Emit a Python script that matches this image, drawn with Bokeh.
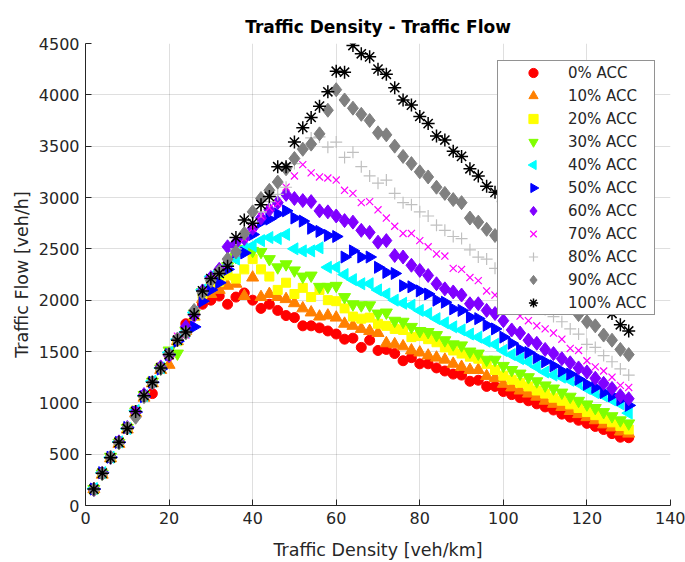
from bokeh.plotting import figure
from bokeh.models import FixedTicker, Legend, LegendItem, Range1d, CustomJS
from bokeh.embed import file_html
from bokeh.resources import INLINE

density = [2, 4, 6, 8, 10, 12, 14, 16, 18, 20, 22, 24, 26, 28, 30,
           32, 34, 36, 38, 40, 42, 44, 46, 48, 50, 52, 54, 56, 58, 60,
           62, 64, 66, 68, 70, 72, 74, 76, 78, 80, 82, 84, 86, 88, 90,
           92, 94, 96, 98, 100, 102, 104, 106, 108, 110, 112, 114, 116, 118, 120,
           122, 124, 126, 128, 130]

acc0 = [150, 310, 470, 610, 750, 910, 1060, 1090, 1330, 1460, 1620, 1770, 1870, 1960, 2000,
        2040, 1960, 2030, 2070, 2000, 1920, 1960, 1900, 1850, 1830, 1750, 1750, 1730, 1700, 1670,
        1620, 1630, 1540, 1610, 1510, 1520, 1480, 1410, 1440, 1380, 1380, 1340, 1310, 1280, 1270,
        1210, 1220, 1160, 1160, 1110, 1080, 1050, 1020, 990, 960, 930, 890, 860, 830, 800,
        770, 740, 700, 665, 660]
acc10 = [160, 300, 460, 600, 740, 900, 1050, 1190, 1320, 1370, 1600, 1700, 1840, 2010, 2060,
         2100, 2140, 2160, 2040, 2220, 2030, 2060, 2030, 2010, 1970, 1920, 1880, 1840, 1850, 1830,
         1770, 1750, 1720, 1700, 1680, 1580, 1570, 1550, 1510, 1490, 1460, 1440, 1420, 1380, 1350,
         1320, 1320, 1260, 1240, 1185, 1150, 1120, 1090, 1060, 1020, 990, 960, 920, 890, 860,
         830, 790, 760, 720, 700]
acc20 = [155, 320, 465, 620, 760, 925, 1065, 1210, 1345, 1480, 1600, 1700, 1850, 2060, 2150,
         2180, 2240, 2210, 2300, 2400, 2300, 2230, 2100, 2170, 2060, 2120, 2030, 2100, 2000, 1990,
         1920, 1840, 1820, 1830, 1770, 1750, 1720, 1710, 1640, 1650, 1620, 1590, 1540, 1510, 1480,
         1450, 1430, 1380, 1320, 1265, 1225, 1195, 1160, 1120, 1090, 1050, 1020, 985, 950, 910,
         880, 845, 810, 775, 740]
acc30 = [160, 310, 475, 610, 755, 915, 1075, 1205, 1335, 1510, 1480, 1700, 1870, 2080, 2200,
         2250, 2330, 2420, 2500, 2480, 2470, 2400, 2320, 2350, 2290, 2230, 2240, 2130, 2130, 2140,
         2030, 1960, 1950, 1950, 1870, 1880, 1800, 1790, 1740, 1700, 1690, 1660, 1610, 1570, 1560,
         1500, 1480, 1420, 1420, 1360, 1320, 1285, 1250, 1210, 1170, 1140, 1100, 1060, 1020, 985,
         950, 910, 870, 830, 800]
acc40 = [165, 320, 470, 620, 750, 925, 1070, 1210, 1340, 1490, 1620, 1690, 1880, 2100, 2230,
         2280, 2330, 2400, 2500, 2530, 2580, 2610, 2600, 2640, 2500, 2480, 2480, 2510, 2320, 2320,
         2250, 2200, 2160, 2160, 2100, 2060, 2000, 1970, 1950, 1900, 1870, 1820, 1780, 1740, 1710,
         1670, 1640, 1600, 1570, 1510, 1470, 1430, 1400, 1350, 1300, 1270, 1250, 1220, 1190, 1140,
         1100, 1070, 1030, 990, 900]
acc50 = [160, 320, 470, 615, 760, 910, 1060, 1200, 1330, 1470, 1600, 1700, 1740, 1990, 2100,
         2170, 2300, 2470, 2460, 2640, 2760, 2790, 2840, 2870, 2800, 2770, 2700, 2670, 2630, 2620,
         2420, 2480, 2420, 2420, 2320, 2270, 2260, 2140, 2130, 2090, 2060, 2000, 1980, 1915, 1900,
         1835, 1820, 1755, 1720, 1640, 1580, 1520, 1490, 1440, 1400, 1360, 1310, 1280, 1230, 1180,
         1150, 1100, 1070, 1030, 975]
acc60 = [155, 315, 470, 620, 760, 910, 1080, 1195, 1350, 1460, 1620, 1740, 1850, 2090, 2220,
         2300, 2520, 2560, 2600, 2700, 2800, 2880, 2950, 3030, 2990, 2970, 2960, 2870, 2860, 2820,
         2775, 2760, 2680, 2660, 2565, 2580, 2435, 2420, 2340, 2290, 2240, 2160, 2110, 2080, 2050,
         1965, 1965, 1900, 1870, 1800, 1710, 1680, 1610, 1580, 1520, 1480, 1430, 1390, 1340, 1300,
         1240, 1190, 1140, 1070, 1040]
acc70 = [160, 315, 470, 610, 760, 920, 1065, 1200, 1345, 1480, 1650, 1660, 1860, 2080, 2200,
         2280, 2350, 2460, 2600, 2700, 2820, 2900, 2940, 3100, 3210, 3320, 3240, 3200, 3190, 3170,
         3070, 3040, 2950, 2960, 2880, 2800, 2720, 2650, 2650, 2580, 2520, 2450, 2430, 2310, 2300,
         2220, 2190, 2090, 2050, 1990, 1920, 1845, 1800, 1750, 1720, 1680, 1620, 1530, 1510, 1410,
         1350, 1310, 1250, 1170, 1150]
acc80 = [160, 320, 465, 615, 750, 915, 1070, 1205, 1340, 1475, 1610, 1690, 1860, 2080, 2210,
         2260, 2340, 2500, 2650, 2760, 2860, 2960, 3030, 3100, 3330, 3480, 3580, 3590, 3490, 3540,
         3390, 3440, 3300, 3210, 3140, 3170, 3040, 2950, 2930, 2860, 2820, 2730, 2680, 2620, 2600,
         2490, 2420, 2400, 2310, 2270, 2200, 2140, 2060, 2000, 1910, 1840, 1790, 1720, 1670, 1570,
         1540, 1460, 1400, 1330, 1270]
acc90 = [155, 310, 470, 610, 755, 860, 1060, 1195, 1335, 1475, 1620, 1680, 1900, 2070, 2190,
         2280, 2400, 2470, 2650, 2860, 2990, 3070, 3150, 3280, 3380, 3470, 3520, 3620, 3850, 4050,
         3950, 3870, 3810, 3750, 3630, 3610, 3500, 3400, 3330, 3250, 3200, 3100, 3040, 2980, 2950,
         2800, 2760, 2690, 2630, 2590, 2520, 2460, 2380, 2310, 2240, 2140, 2040, 1950, 1860, 1790,
         1750, 1660, 1610, 1520, 1470]
acc100 = [160, 315, 465, 615, 750, 915, 1070, 1200, 1340, 1470, 1610, 1690, 1860, 2090, 2210,
          2260, 2330, 2610, 2780, 2750, 2930, 3010, 3300, 3300, 3540, 3680, 3780, 3890, 4030, 4230,
          4220, 4480, 4400, 4370, 4250, 4200, 4070, 3950, 3900, 3790, 3720, 3600, 3560, 3450, 3400,
          3280, 3210, 3110, 3050, 2960, 2890, 2790, 2720, 2630, 2550, 2450, 2380, 2280, 2210, 2110,
          2040, 1950, 1870, 1760, 1700]

labels = ["0% ACC", "10% ACC", "20% ACC", "30% ACC", "40% ACC", "50% ACC",
          "60% ACC", "70% ACC", "80% ACC", "90% ACC", "100% ACC"]
series = [acc0, acc10, acc20, acc30, acc40, acc50, acc60, acc70, acc80, acc90, acc100]

x_ticks = [0, 20, 40, 60, 80, 100, 120, 140]
y_ticks = [0, 500, 1000, 1500, 2000, 2500, 3000, 3500, 4000, 4500]

# ---- custom marker shapes (triangles pointing left/right, wide diamond) ----
_PRE = """
let d = null;
for (const x of arguments) { if (x && typeof x === "object" && x.ctx && x.visuals) { d = x; break; } }
if (d === null) { return; }
const ctx = d.ctx, i = d.i, r = d.r, v = d.visuals;
"""
_POST = """
try {
  if (v.fill.doit) { v.fill.set_vectorize(ctx, i); ctx.fill(); }
  if (v.line.doit) { v.line.set_vectorize(ctx, i); ctx.stroke(); }
} catch (e) { ctx.fill(); ctx.stroke(); }
"""
left_tri = CustomJS(code=_PRE + """
const a = r * Math.sqrt(3) / 3;
ctx.moveTo(a, -r); ctx.lineTo(a, r); ctx.lineTo(-2 * a, 0); ctx.closePath();
""" + _POST)
right_tri = CustomJS(code=_PRE + """
const a = r * Math.sqrt(3) / 3;
ctx.moveTo(-a, -r); ctx.lineTo(-a, r); ctx.lineTo(2 * a, 0); ctx.closePath();
""" + _POST)
wide_diamond = CustomJS(code=_PRE + """
const w = r * 0.78;
ctx.moveTo(0, -r); ctx.lineTo(w, 0); ctx.lineTo(0, r); ctx.lineTo(-w, 0); ctx.closePath();
""" + _POST)
DEFS = {"@ltri": left_tri, "@rtri": right_tri, "@diam": wide_diamond}

styles = [
    ("circle", "#ff0000", 10, True, 1),
    ("triangle", "#ff8000", 12, True, 1),
    ("square", "#ffff00", 9, True, 1),
    ("inverted_triangle", "#80ff00", 12, True, 1),
    ("@ltri", "#00ffff", 12, True, 1),
    ("@rtri", "#0000ff", 12, True, 1),
    ("@diam", "#8000ff", 14, True, 1),
    ("x", "#ff00ff", 10, False, 1.2),
    ("cross", "#c0c0c0", 12, False, 1.2),
    ("@diam", "#808080", 14, True, 1),
    ("asterisk", "#000000", 13, False, 1.5),
]

FONT = "DejaVu Sans"
TXT = "#262626"

p = figure(width=685, height=562,
           x_range=Range1d(0, 140), y_range=Range1d(0, 4500),
           output_backend="svg", toolbar_location=None,
           min_border_left=85, min_border_right=15,
           min_border_top=43, min_border_bottom=57,
           title="Traffic Density - Traffic Flow")
p.outline_line_color = None
p.background_fill_color = "white"
p.border_fill_color = "white"

p.title.text_font = FONT
p.title.text_font_size = "17px"
p.title.text_font_style = "bold"
p.title.text_color = "#000000"
p.title.align = "center"
p.title.standoff = 14

p.xaxis.ticker = FixedTicker(ticks=x_ticks)
p.yaxis.ticker = FixedTicker(ticks=y_ticks)
for ax in (p.xaxis, p.yaxis):
    ax.major_tick_in = 6
    ax.major_tick_out = 0
    ax.minor_tick_line_color = None
    ax.axis_line_color = TXT
    ax.major_tick_line_color = TXT
    ax.major_label_text_font = FONT
    ax.major_label_text_font_size = "16px"
    ax.major_label_text_color = TXT
    ax.axis_label_text_font = FONT
    ax.axis_label_text_font_size = "17.5px"
    ax.axis_label_text_font_style = "normal"
    ax.axis_label_text_color = TXT
    ax.major_label_standoff = 6
p.xaxis.axis_label = "Traffic Density [veh/km]"
p.yaxis.axis_label = "Traffic Flow [veh/h]"
p.xaxis.axis_label_standoff = 13
p.yaxis.axis_label_standoff = 4

p.grid.grid_line_color = "#262626"
p.grid.grid_line_alpha = 0.15
p.xgrid.ticker = FixedTicker(ticks=x_ticks)
p.ygrid.ticker = FixedTicker(ticks=y_ticks)

items = []
for lab, ys, (mk, col, sz, filled, lw) in zip(labels, series, styles):
    kw = dict(marker=mk, size=sz, line_color=col, line_width=lw,
              fill_color=col if filled else None)
    if mk.startswith("@"):
        kw["defs"] = DEFS
    r = p.scatter(density, ys, **kw)
    items.append(LegendItem(label=lab, renderers=[r]))

legend = Legend(items=items, location=(412, 190),
                label_text_font=FONT, label_text_font_size="15px",
                label_text_color=TXT,
                border_line_color=TXT, border_line_width=1,
                background_fill_color="white", background_fill_alpha=1.0,
                padding=0, spacing=0, margin=0,
                glyph_height=23, label_height=23, glyph_width=70,
                label_standoff=0, label_width=86)
p.add_layout(legend)

open("out.html", "w").write(file_html(p, INLINE))
